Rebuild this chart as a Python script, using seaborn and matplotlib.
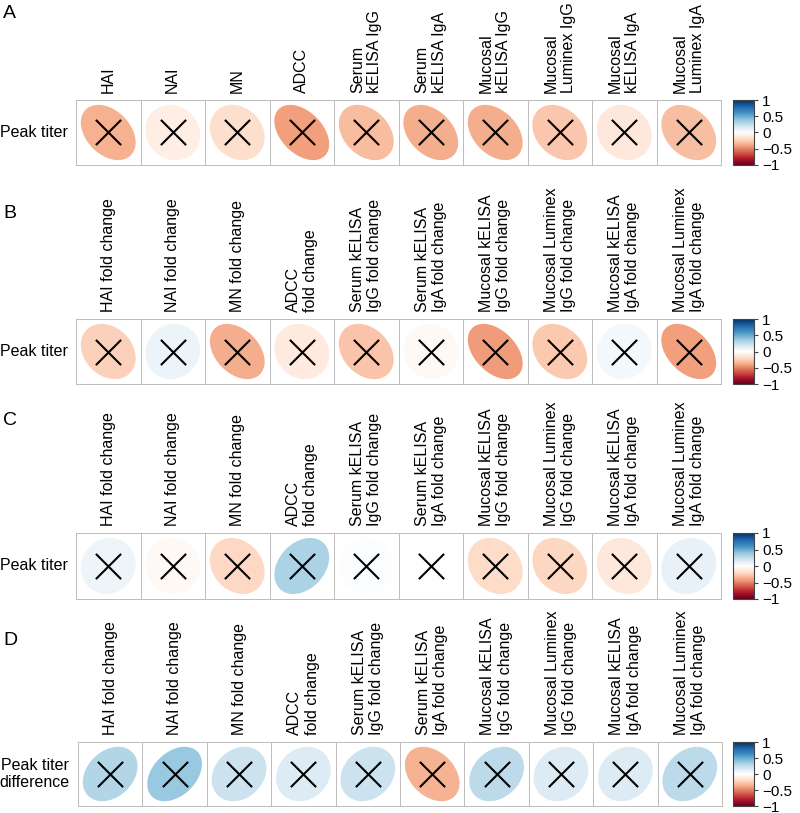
import matplotlib
matplotlib.use("Agg")
import matplotlib.pyplot as plt
import seaborn as sns
import numpy as np
import pandas as pd
from matplotlib.colors import LinearSegmentedColormap, ListedColormap, Normalize
from matplotlib.cm import ScalarMappable

sns.set_style("white")
plt.rcParams['font.family'] = ['Liberation Sans', 'DejaVu Sans']
plt.rcParams['text.color'] = 'black'
plt.rcParams['xtick.color'] = 'black'
plt.rcParams['ytick.color'] = 'black'

labels_a = ["HAI", "NAI", "MN", "ADCC", "Serum\nkELISA IgG", "Serum\nkELISA IgA",
            "Mucosal\nkELISA IgG", "Mucosal\nLuminex IgG", "Mucosal\nkELISA IgA",
            "Mucosal\nLuminex IgA"]
labels_fc = ["HAI fold change", "NAI fold change", "MN fold change", "ADCC\nfold change",
             "Serum kELISA\nIgG fold change", "Serum kELISA\nIgA fold change",
             "Mucosal kELISA\nIgG fold change", "Mucosal Luminex\nIgG fold change",
             "Mucosal kELISA\nIgA fold change", "Mucosal Luminex\nIgA fold change"]

corr_a = [-0.36, -0.10, -0.18, -0.42, -0.32, -0.37, -0.37, -0.28, -0.13, -0.31]
corr_b = [-0.24, 0.08, -0.37, -0.12, -0.29, -0.04, -0.43, -0.27, 0.05, -0.42]
corr_c = [0.07, -0.04, -0.21, 0.31, 0.01, -0.01, -0.20, -0.22, -0.13, 0.10]
corr_d = [0.29, 0.37, 0.21, 0.15, 0.21, -0.34, 0.26, 0.14, 0.15, 0.26]

rdbu = ["#67001F", "#B2182B", "#D6604D", "#F4A582", "#FDDBC7", "#FFFFFF",
        "#D1E5F0", "#92C5DE", "#4393C3", "#2166AC", "#053061"]
cmap = LinearSegmentedColormap.from_list("corr", rdbu, N=200)
norm = Normalize(-1, 1)

W, H = 800, 813
fig = plt.figure(figsize=(W / 100, H / 100), dpi=100)


def px(x0, y0, x1, y1):
    return [x0 / W, 1 - y1 / H, (x1 - x0) / W, (y1 - y0) / H]


def corr_row(vals, labels, row_label, box, cbox, letter, letter_y):
    ax = fig.add_axes(px(*box))
    df = pd.DataFrame([vals], index=[row_label], columns=labels)
    sns.heatmap(df, cmap=ListedColormap(["white"]), cbar=False, linewidths=0.5,
                linecolor="#BEBEBE", ax=ax)
    ax.collections[0].set_clip_on(False)

    # corrplot-style ellipses, shape from the correlation value
    k = np.linspace(0, 2 * np.pi, 99)
    for j, r in enumerate(vals):
        a = np.arccos(r)
        ex = 0.85 * np.cos(k + a / 2) / 2
        ey = 0.85 * np.cos(k - a / 2) / 2
        ax.fill(j + 0.5 + ex, 0.5 - ey, color=cmap(norm(r)), lw=0, zorder=2)
    ax.scatter(np.arange(len(vals)) + 0.5, [0.5] * len(vals), marker="x", s=330,
               c="black", linewidths=1.5, zorder=3)

    ax.xaxis.tick_top()
    ax.tick_params(axis="x", length=0, pad=5, top=False, bottom=False,
                   labeltop=True, labelbottom=False)
    ax.tick_params(axis="y", length=0, pad=6)
    ax.set_xticklabels(labels, rotation=90, ha="center", va="bottom",
                       multialignment="left", fontsize=11.5)
    ax.set_yticklabels([row_label], rotation=0, fontsize=11.5, multialignment="center",
                       va="center")
    ax.set_xlabel("")
    ax.set_ylabel("")

    cax = fig.add_axes(px(*cbox))
    sm = ScalarMappable(norm=norm, cmap=cmap)
    cb = fig.colorbar(sm, cax=cax, ticks=[-1, -0.5, 0, 0.5, 1])
    cb.ax.set_yticklabels(["\u22121", "\u22120.5", "0", "0.5", "1"], fontsize=11)
    cb.ax.tick_params(length=3, width=0.8, color="#444444", pad=3)
    cb.outline.set_edgecolor("#444444")
    cb.outline.set_linewidth(0.8)

    fig.text(3 / W, 1 - letter_y / H, letter, fontsize=14, va="center", ha="left")


corr_row(corr_a, labels_a, "Peak titer", (76, 100, 721, 165), (733, 100, 754, 165), "A", 14)
corr_row(corr_b, labels_fc, "Peak titer", (76, 319, 721, 384), (733, 319, 754, 384), "B", 214)
corr_row(corr_c, labels_fc, "Peak titer", (76, 533, 721, 599), (733, 533, 754, 599), "C", 420)
corr_row(corr_d, labels_fc, "Peak titer\ndifference", (78, 742, 722, 806),
         (733, 742, 754, 806), "D", 640)

fig.savefig("out.png", dpi=100)
